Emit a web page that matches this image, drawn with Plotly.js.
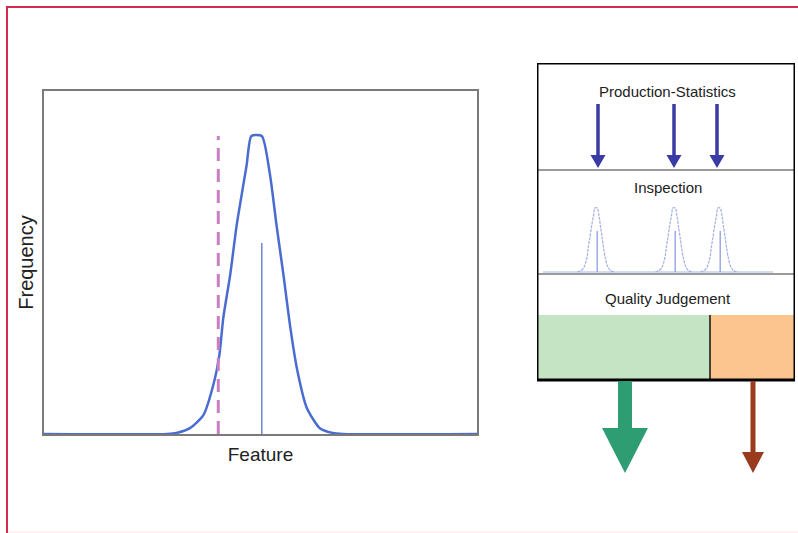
<!DOCTYPE html>
<html>
<head>
<meta charset="utf-8">
<script src="https://cdn.plot.ly/plotly-3.0.1.min.js"></script>
<style>html,body{margin:0;padding:0;background:#fff;}#chart{width:798px;height:533px;}</style>
</head>
<body>
<div id="chart"></div>
<script>
// ---- Left chart data (feature units 0..100, frequency 0..1) ----
const featureX = [0, 28.5, 30.6, 33.7, 36.8, 39.1, 40.5, 41.4, 43.0, 44.5, 46.8, 47.9, 50.3, 52.2, 53.7, 55.3, 56.8, 58.4, 60.7, 63.7, 66.7, 69, 100];
const freqY    = [0, 0, 0.003, 0.017, 0.055, 0.143, 0.230, 0.338, 0.464, 0.609, 0.784, 0.869, 0.869, 0.755, 0.609, 0.464, 0.318, 0.192, 0.076, 0.017, 0.003, 0, 0];
const limitX = [40.25, 40.25];
const limitY = [0, 0.869];
const meanX = [50.3, 50.3];
const meanY = [0, 0.557];
const curveCenter = 49.1;

// ---- Right panel data (panel units) ----
const sectionLabels = ["Production-Statistics", "Inspection", "Quality Judgement"];
const sectionLabelV = [28, 124, 235];
const sectionLines = [107, 211];
const statArrowsU = [61, 137, 180];
const inspectCentersU = [59, 137, 182];
const inspectBaseU = [6, 236];
const inspectBaseV = 209;
const inspectScaleX = 1.0;
const inspectScaleY = 73.6;
const judgeSplitU = 173;

const W = 798, H = 533;
const px = v => v / W, py = v => 1 - v / H;

const traces = [];
traces.push({x: featureX, y: freqY, type: 'scatter', mode: 'lines',
  line: {color: '#4a6cd0', width: 2.5, shape: 'spline', smoothing: 0.6}, cliponaxis: false, hoverinfo: 'skip'});
traces.push({x: limitX, y: limitY, type: 'scatter', mode: 'lines',
  line: {color: '#c97fc0', width: 3, dash: '13px,8px'}, hoverinfo: 'skip'});
traces.push({x: meanX, y: meanY, type: 'scatter', mode: 'lines',
  line: {color: '#6d84d4', width: 1.5}, hoverinfo: 'skip'});

// inspection mini curves
traces.push({x: inspectBaseU, y: [inspectBaseV, inspectBaseV], xaxis: 'x2', yaxis: 'y2',
  type: 'scatter', mode: 'lines', line: {color: '#a9b5e6', width: 1.2}, hoverinfo: 'skip'});
inspectCentersU.forEach(c => {
  const xs = [], ys = [];
  for (let i = 2; i < featureX.length - 2; i++) {
    xs.push(c + (featureX[i] - curveCenter) * inspectScaleX);
    ys.push(inspectBaseV - freqY[i] * inspectScaleY);
  }
  traces.push({x: xs, y: ys, xaxis: 'x2', yaxis: 'y2', type: 'scatter', mode: 'lines',
    line: {color: '#a3afe4', width: 1.2, dash: '3px,1px', shape: 'spline', smoothing: 0.8}, hoverinfo: 'skip'});
  const mx = c + (meanX[0] - curveCenter) * inspectScaleX;
  traces.push({x: [mx, mx], y: [inspectBaseV, inspectBaseV - meanY[1] * inspectScaleY], xaxis: 'x2', yaxis: 'y2',
    type: 'scatter', mode: 'lines', line: {color: '#8d9ce0', width: 1.3}, hoverinfo: 'skip'});
});

function arrowPath(cx, vTop, vHead, vTip, shaftW, headW) {
  const s = shaftW / 2, h = headW / 2;
  return `M ${cx - s},${vTop} L ${cx + s},${vTop} L ${cx + s},${vHead} L ${cx + h},${vHead} L ${cx},${vTip} L ${cx - h},${vHead} L ${cx - s},${vHead} Z`;
}

const shapes = [];
// red frame
shapes.push({type: 'line', xref: 'paper', yref: 'paper', x0: px(7), x1: px(7), y0: 0, y1: py(7), line: {color: '#d42a4c', width: 2}});
shapes.push({type: 'line', xref: 'paper', yref: 'paper', x0: px(6), x1: 1, y0: py(7), y1: py(7), line: {color: '#d42a4c', width: 2}});
shapes.push({type: 'line', xref: 'paper', yref: 'paper', x0: px(8), x1: 1, y0: py(532), y1: py(532), line: {color: '#fbe3ea', width: 1}});

// judgement fills
shapes.push({type: 'rect', xref: 'x2', yref: 'y2', x0: 1, x1: judgeSplitU, y0: 252, y1: 317, fillcolor: '#c4e4c3', line: {width: 0}});
shapes.push({type: 'rect', xref: 'x2', yref: 'y2', x0: judgeSplitU, x1: 257, y0: 252, y1: 317, fillcolor: '#fcc48f', line: {width: 0}});
shapes.push({type: 'line', xref: 'x2', yref: 'y2', x0: judgeSplitU, x1: judgeSplitU, y0: 252, y1: 317, line: {color: '#111', width: 1.5}});
// section lines
sectionLines.forEach(v => shapes.push({type: 'line', xref: 'x2', yref: 'y2', x0: 0, x1: 258, y0: v, y1: v, line: {color: '#9a9a9a', width: 2}}));
// box
shapes.push({type: 'rect', xref: 'x2', yref: 'y2', x0: 0, x1: 258, y0: 0, y1: 317, line: {color: '#000', width: 3}});
// production arrows
statArrowsU.forEach(u => shapes.push({type: 'path', xref: 'x2', yref: 'y2',
  path: arrowPath(u, 41, 92, 105, 3.5, 15), fillcolor: '#3b3ba6', line: {width: 0}}));
// output arrows
shapes.push({type: 'path', xref: 'x2', yref: 'y2', path: arrowPath(88, 318, 365, 410, 14, 46), fillcolor: '#2e9e72', line: {width: 0}});
shapes.push({type: 'path', xref: 'x2', yref: 'y2', path: arrowPath(216, 318, 389, 410, 5, 22), fillcolor: '#9a3b20', line: {width: 0}});

const annotations = sectionLabels.map((t, i) => ({
  text: t, xref: 'x2', yref: 'y2', x: 130.5, y: sectionLabelV[i], showarrow: false,
  xanchor: 'center', yanchor: 'middle', font: {family: 'Liberation Sans, Arial, sans-serif', size: 15, color: '#222'}
}));

const layout = {
  width: W, height: H,
  margin: {l: 0, r: 0, t: 0, b: 0},
  paper_bgcolor: '#fff', plot_bgcolor: 'rgba(0,0,0,0)',
  showlegend: false,
  font: {family: 'Liberation Sans, Arial, sans-serif', color: '#222'},
  xaxis: {domain: [px(44), px(477)], range: [0, 100], showgrid: false, zeroline: false, showticklabels: false, ticks: '',
    showline: true, mirror: true, linecolor: '#7a7a7a', linewidth: 2, automargin: false,
    title: {text: 'Feature', font: {size: 19, color: '#222'}, standoff: 13}},
  yaxis: {domain: [py(434), py(91)], range: [0, 1], showgrid: false, zeroline: false, showticklabels: false, ticks: '',
    showline: true, mirror: true, linecolor: '#7a7a7a', linewidth: 2, automargin: false,
    title: {text: 'Frequency', font: {size: 20, color: '#222'}, standoff: 3}},
  xaxis2: {domain: [px(537), px(795)], range: [0, 258], visible: false, fixedrange: true, anchor: 'y2'},
  yaxis2: {domain: [py(475), py(63)], range: [412, 0], visible: false, fixedrange: true, anchor: 'x2'},
  shapes: shapes,
  annotations: annotations
};

Plotly.newPlot('chart', traces, layout, {displayModeBar: false, staticPlot: true});
</script>
</body>
</html>
